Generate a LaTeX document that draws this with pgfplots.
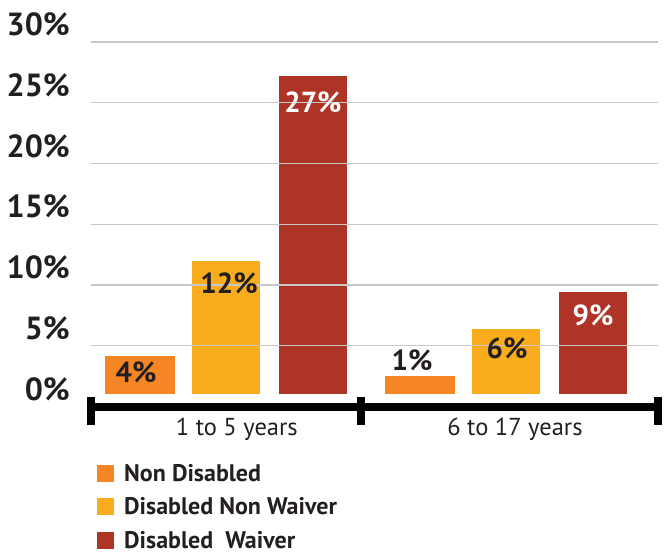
\documentclass[border=0pt]{standalone}
\usepackage{pgfplots}
\pgfplotsset{compat=1.18}
\usepackage{fontspec}
\setmainfont{PT Sans}
\definecolor{barO}{HTML}{F58623}
\definecolor{barY}{HTML}{FAAD1C}
\definecolor{barR}{HTML}{AE3428}
\definecolor{txt}{HTML}{231F20}
\definecolor{gridc}{HTML}{C8C8C8}
\begin{document}
\begin{tikzpicture}[x=1pt,y=1pt]
\useasboundingbox (0,0) rectangle (670,554);
\begin{axis}[
  at={(91pt,147.4pt)}, anchor=south west,
  scale only axis, width=566.5pt, height=364.6pt,
  xmin=-0.566, xmax=5.983, ymin=0, ymax=30,
  ytick={5,10,...,30},
  extra y ticks={0},
  extra y tick style={grid=none},
  extra y tick labels={0\%},
  yticklabel={\pgfmathprintnumber{\tick}\%},
  /pgf/number format/assume math mode=true,
  yticklabel style={anchor=east, inner sep=0pt, xshift=-21pt, yshift=17.6pt,
    font=\fontsize{32}{36}\selectfont\bfseries, text=txt},
  xtick={1.12,4.335},
  xticklabels={1 to 5 years, 6 to 17 years},
  xticklabel style={anchor=base, yshift=-29pt, font=\fontsize{24.5}{28}\selectfont, text=txt},
  axis line style={draw=none},
  major tick length=0pt,
  ymajorgrids, grid style={gridc, line width=1.3pt},
  axis on top,
  clip=false,
  legend style={at={(axis description cs:0.0106,-0.1518)}, anchor=north west,
    draw=none, fill=none, inner sep=0pt, row sep=11pt,
    font=\fontsize{24}{27}\selectfont\bfseries, text=txt},
  legend cell align=left,
  legend image code/.code={%
    \path[#1, draw=none, line width=0pt, fill=.] (0pt,-8.5pt) rectangle (17pt,8.5pt);
    \path[draw=none, fill=none, line width=0pt] (0pt,0pt) -- (25pt,0pt);},
]
% bars: each from its floating base (1.04) to its top value
\addplot[barO, line width=70pt] coordinates {(0,1.04) (0,4.16)};
\addlegendentry{Non Disabled}
\addplot[barY, line width=68pt] coordinates {(0.995,1.04) (0.995,12.0)};
\addlegendentry{Disabled Non Waiver}
\addplot[barR, line width=68pt] coordinates {(2,1.04) (2,27.2)};
\addlegendentry{Disabled~~Waiver}
\addplot[barO, line width=70pt, forget plot] coordinates {(3.237,1.04) (3.237,2.52)};
\addplot[barY, line width=68pt, forget plot] coordinates {(4.231,1.04) (4.231,6.39)};
\addplot[barR, line width=68pt, forget plot] coordinates {(5.237,1.04) (5.237,9.43)};
% value labels
\addplot[draw=none, forget plot, nodes near coords, point meta=explicit symbolic,
  every node near coord/.style={anchor=center, inner sep=0pt, text=txt,
    font=\fontsize{29}{32}\selectfont\bfseries}]
  coordinates {(-0.046,2.85) [4\%] (1.03,10.17) [12\%] (3.145,3.83) [1\%] (4.243,4.82) [6\%]};
\addplot[draw=none, forget plot, nodes near coords, point meta=explicit symbolic,
  every node near coord/.style={anchor=center, inner sep=0pt, text=white,
    font=\fontsize{29}{32}\selectfont\bfseries}]
  coordinates {(2.0,25.06) [27\%] (5.237,7.54) [9\%]};
\coordinate (A) at (axis cs:-0.566,0);
\coordinate (B) at (axis cs:2.555,0);
\coordinate (C) at (axis cs:5.983,0);
\end{axis}
\draw[line width=8pt, black] (A) -- (C);
\foreach \p in {A,B,C} {
  \draw[line width=8pt, black] ([yshift=9.6pt]\p) -- ([yshift=-18.4pt]\p);
}
\end{tikzpicture}
\end{document}
